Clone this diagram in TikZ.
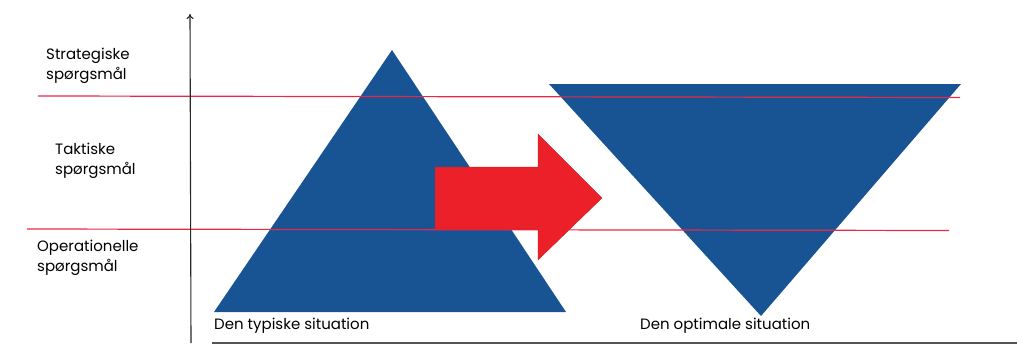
\documentclass[tikz,border=0pt]{standalone}
\usepackage{fontspec}
\setmainfont{Poppins}
\usetikzlibrary{arrows.meta}
\definecolor{triblue}{RGB}{24,84,148}
\definecolor{arrred}{RGB}{236,32,40}
\definecolor{linered}{RGB}{232,40,70}
\definecolor{axisgray}{RGB}{40,40,40}
\tikzset{
  lbl/.style={font=\fontsize{15}{20.5}\selectfont, text=black, inner sep=0pt, align=left},
  redline/.style={draw=linered, line width=1.2pt},
  tri/.style={fill=triblue},
  bigarrow/.style={fill=arrred, draw=arrred!80!black, line width=0.3pt},
}
\begin{document}
\begin{tikzpicture}[x=1pt,y=-1pt]
\useasboundingbox (0,0) rectangle (1017,345);
% coordinates
\coordinate (axbot) at (191,343);
\coordinate (axtop) at (190,14);
\coordinate (l1a) at (38,96);
\coordinate (l1b) at (960,97.5);
\coordinate (l2a) at (27,229);
\coordinate (l2b) at (949,230.5);
\coordinate (basea) at (212,343);
\coordinate (baseb) at (1017,343);
% triangles
\coordinate (t1apex) at (392,50);
\coordinate (t1l) at (214,312);
\coordinate (t1r) at (566,312);
\coordinate (t2l) at (549,84);
\coordinate (t2r) at (961,84);
\coordinate (t2apex) at (761,316);
\fill[tri] (t1l) -- (t1apex) -- (t1r) -- cycle;
\fill[tri] (t2l) -- (t2r) -- (t2apex) -- cycle;
% red lines
\draw[redline] (l1a) -- (l1b);
\draw[redline] (l2a) -- (l2b);
% arrow
\draw[bigarrow] (435,167) -- (538,167) -- (538,134) -- (602,198) -- (538,260) -- (538,229) -- (435,229) -- cycle;
% axis
\draw[axisgray, line width=1.1pt, -{To[length=5pt,width=7pt]}] (axbot) -- (axtop);
\draw[axisgray!80, line width=2pt] (basea) -- (baseb);
% labels
\node[lbl, anchor=west] (strat) at (46,66) {Strategiske\\spørgsmål};
\node[lbl, anchor=west] (takt) at (55,161) {Taktiske\\spørgsmål};
\node[lbl, anchor=west] (oper) at (37,258) {Operationelle\\spørgsmål};
\node[lbl, anchor=west] (typ) at (214,326) {Den typiske situation};
\node[lbl, anchor=west] (opt) at (640,326) {Den optimale situation};
\end{tikzpicture}
\end{document}
